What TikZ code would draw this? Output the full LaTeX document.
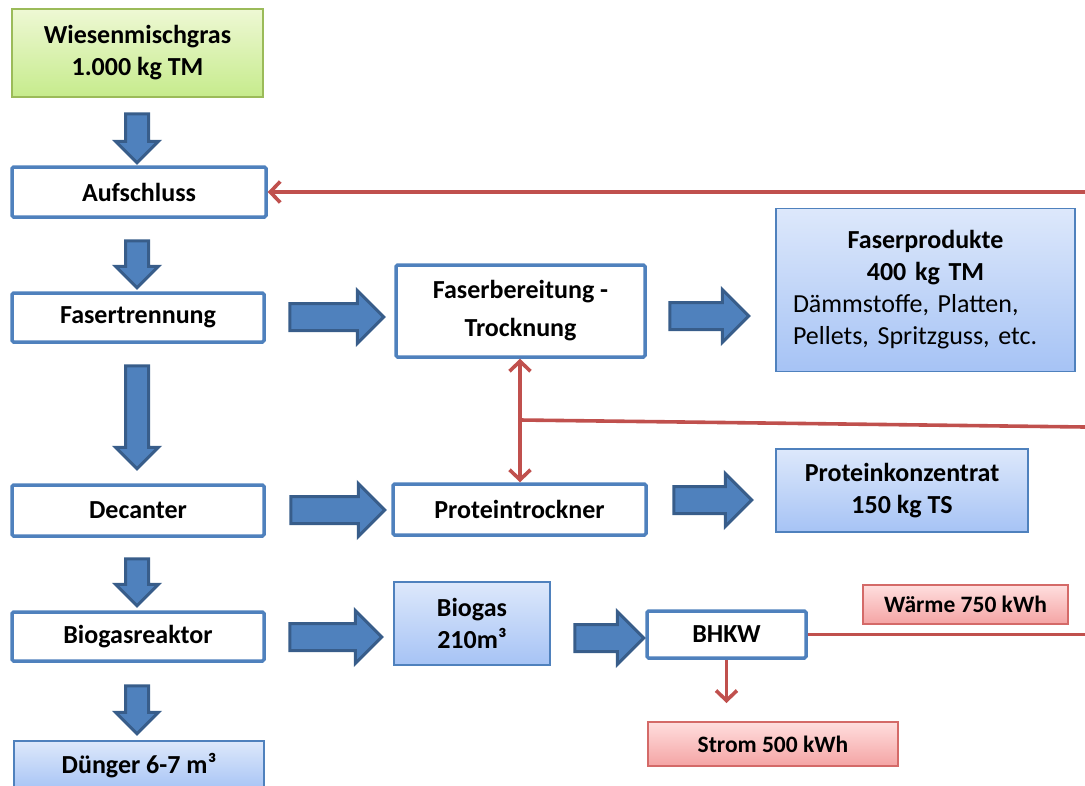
\documentclass[tikz,border=0pt]{standalone}
\usepackage{fontspec}
\setmainfont{Carlito}
\usetikzlibrary{arrows.meta,shapes.arrows}
\definecolor{boxblue}{HTML}{4F81BD}
\definecolor{arrowdark}{HTML}{385D8A}
\definecolor{lineRed}{HTML}{C0504D}
\definecolor{prodtop}{HTML}{DDE8FB}
\definecolor{prodbot}{HTML}{A6C3F5}
\definecolor{grastop}{HTML}{EEF8D4}
\definecolor{grasbot}{HTML}{C6EB8C}
\definecolor{grasline}{HTML}{9BBB59}
\definecolor{energytop}{HTML}{FFDEDE}
\definecolor{energybot}{HTML}{F4A4A4}
\definecolor{energyline}{HTML}{D46A68}
\begin{document}
\begin{tikzpicture}[x=1pt,y=-1pt,>={Straight Barb[length=10pt,width=21pt]},
	every node/.style={font=\fontsize{26}{32}\selectfont\bfseries,inner sep=0pt},
	stage/.style={draw=boxblue,line width=3.5pt,fill=white,rounded corners=1.5pt,align=center},
	product/.style={draw=boxblue,line width=1.3pt,top color=prodtop,bottom color=prodbot,align=center},
	source/.style={draw=grasline,line width=1.3pt,top color=grastop,bottom color=grasbot,align=center},
	energy/.style={draw=energyline,line width=1.3pt,top color=energytop,bottom color=energybot,font=\fontsize{23.5}{28}\selectfont\bfseries},
	vblock/.style={single arrow,draw=arrowdark,fill=boxblue,line width=3pt,rotate=-90,inner xsep=0pt,inner ysep=10pt,single arrow head extend=10pt,single arrow tip angle=90,minimum width=0pt},
	hblock/.style={single arrow,draw=arrowdark,fill=boxblue,line width=3pt,inner xsep=0pt,inner ysep=12pt,single arrow head extend=13pt,single arrow tip angle=90,minimum width=0pt},
	redline/.style={draw=lineRed,line width=3.6pt}]
	\useasboundingbox (0,0) rectangle (1085,785);
	% linke Spalte
	\node[source,minimum width=251pt,minimum height=88pt] (wiesen) at (137.5,53) {Wiesenmischgras\\1.000 kg TM};
	\node[stage,minimum width=254pt,minimum height=50pt] (aufschluss) at (139,192) {Aufschluss};
	\node[stage,minimum width=252pt,minimum height=49pt] (fasertrennung) at (138,317.5) {Fasertrennung};
	\node[stage,minimum width=252pt,minimum height=51pt] (decanter) at (138,510.5) {Decanter};
	\node[stage,minimum width=252pt,minimum height=49pt] (biogasreaktor) at (138,636.5) {Biogasreaktor};
	\node[product,minimum width=250pt,minimum height=50pt] (duenger) at (139,766) {Dünger 6-7 m³};
	% mittlere Spalte
	\node[stage,minimum width=249pt,minimum height=92pt] (faserbereitung) at (520.5,311) {Faserbereitung -\\[6pt]Trocknung};
	\node[stage,minimum width=253pt,minimum height=51pt] (proteintrockner) at (519.5,509.5) {Proteintrockner};
	\node[product,minimum width=156pt,minimum height=83pt] (biogas) at (472,623.5) {Biogas\\210m³};
	\node[stage,minimum width=159pt,minimum height=47pt] (bhkw) at (726.5,634.5) {BHKW};
	% rechte Spalte
	\node[product,minimum width=299pt,minimum height=163pt,text width=265pt,align=left] (faserprodukte) at (925.5,290)
		{\makebox[\linewidth]{Faserprodukte}\\\makebox[\linewidth]{400 kg TM}\\\mdseries Dämmstoffe, Platten,\\Pellets, Spritzguss, etc.};
	\node[product,minimum width=252pt,minimum height=83pt] (proteinkonzentrat) at (902,490.5) {Proteinkonzentrat\\150 kg TS};
	\node[energy,minimum width=205pt,minimum height=39pt] (waerme) at (965.5,604.5) {Wärme 750 kWh};
	\node[energy,minimum width=250pt,minimum height=44pt] (strom) at (773,744) {Strom 500 kWh};
	% Blockpfeile
	\node[vblock,minimum height=49pt] (pfeilA) at (137,132.5) {};
	\node[vblock,minimum height=47pt] (pfeilB) at (137,258.5) {};
	\node[vblock,minimum height=103pt] (pfeilC) at (137,411.5) {};
	\node[vblock,minimum height=47pt] (pfeilD) at (137,576.5) {};
	\node[vblock,minimum height=48pt] (pfeilE) at (137,704) {};
	\node[hblock,minimum height=94pt] (pfeilF) at (330,317) {};
	\node[hblock,minimum height=79pt] (pfeilG) at (702.5,316) {};
	\node[hblock,minimum height=94pt] (pfeilH) at (331,510) {};
	\node[hblock,minimum height=78pt] (pfeilI) at (706,500) {};
	\node[hblock,minimum height=92pt] (pfeilJ) at (329,637) {};
	\node[hblock,minimum height=69pt] (pfeilK) at (602.5,638) {};
	% Waermerueckfuehrung
	\coordinate (rueckA) at (1085,192);
	\coordinate (abzweig) at (520,420);
	\coordinate (rueckB) at (1085,427);
	\coordinate (rueckC) at (1085,634.5);
	\coordinate (stromspitze) at (726.5,703);
	\draw[redline,->] (rueckA) -- (aufschluss.east);
	\draw[redline,<->] (faserbereitung.south -| abzweig) -- (proteintrockner.north -| abzweig);
	\draw[redline] (abzweig) -- (rueckB);
	\draw[redline] (bhkw.east) -- (rueckC);
	\draw[redline,->] (bhkw.south) -- (stromspitze);
\end{tikzpicture}
\end{document}
